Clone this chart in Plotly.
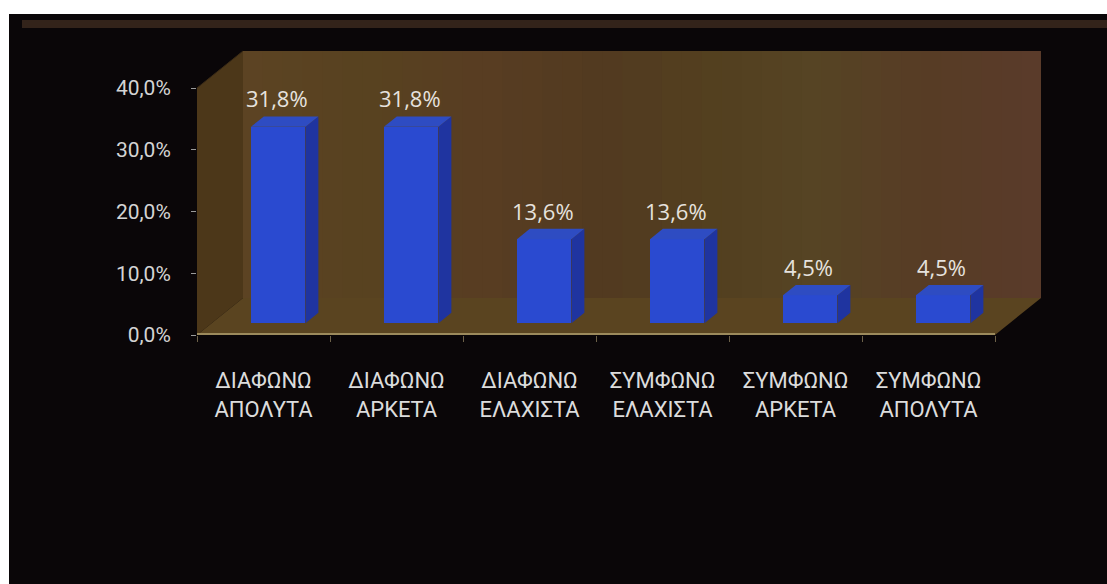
import plotly.graph_objects as go

# ---- data ----
categories = [
    "ΔΙΑΦΩΝΩ<br>ΑΠΟΛΥΤΑ",
    "ΔΙΑΦΩΝΩ<br>ΑΡΚΕΤΑ",
    "ΔΙΑΦΩΝΩ<br>ΕΛΑΧΙΣΤΑ",
    "ΣΥΜΦΩΝΩ<br>ΕΛΑΧΙΣΤΑ",
    "ΣΥΜΦΩΝΩ<br>ΑΡΚΕΤΑ",
    "ΣΥΜΦΩΝΩ<br>ΑΠΟΛΥΤΑ",
]
values = [31.8, 31.8, 13.6, 13.6, 4.5, 4.5]
value_labels = ["31,8%", "31,8%", "13,6%", "13,6%", "4,5%", "4,5%"]
y_ticks = [0, 10, 20, 30, 40]
y_tick_labels = ["0,0%", "10,0%", "20,0%", "30,0%", "40,0%"]

# ---- pseudo-3D geometry (in axis units) ----
W, H = 1107, 584
PL, PR, PT, PB = 197, 1043, 50, 335          # plot area in pixels
N = len(categories)
X_MIN = -0.5
X_MAX = X_MIN + (PR - PL) / ((995 - PL) / N)  # floor front edge spans the categories
Y_MAX_FRONT = 40
Y_MAX = Y_MAX_FRONT * (PB - PT) / (PB - 88)
DEPTH_X = 46 / ((995 - PL) / N)               # wall depth, horizontal part
DEPTH_Y = 37 / ((PB - 88) / Y_MAX_FRONT)      # wall depth, vertical part
Z0, Z1 = 0.32, 0.60                           # bar front / back depth fraction
BAR_W = 0.41

BG = "#0a0608"
FRONT = "#2a4ad0"
SIDE = "#1f34a0"
TOP = "#2e4cc2"
TEXT_FONT = "Open Sans, Noto Sans, sans-serif"
AXIS_FONT = "Liberation Sans Narrow, Roboto, sans-serif"


def px_to_paper_x(px):
    return (px - PL) / (PR - PL)


def px_to_paper_y(py):
    return (PB - py) / (PB - PT)


def lerp_hex(stops, t):
    for (t0, c0), (t1, c1) in zip(stops, stops[1:]):
        if t0 <= t <= t1:
            f = 0 if t1 == t0 else (t - t0) / (t1 - t0)
            a = [int(c0[i:i + 2], 16) for i in (1, 3, 5)]
            b = [int(c1[i:i + 2], 16) for i in (1, 3, 5)]
            return "rgb({},{},{})".format(*[round(a[k] + (b[k] - a[k]) * f) for k in range(3)])
    return stops[-1][1]


shapes = []
# framed black panel on white page
shapes.append(dict(type="rect", xref="paper", yref="paper", layer="below",
                   x0=px_to_paper_x(9), x1=px_to_paper_x(W + 2),
                   y0=px_to_paper_y(H + 2), y1=px_to_paper_y(14),
                   fillcolor=BG, line=dict(width=0)))
shapes.append(dict(type="rect", xref="paper", yref="paper", layer="below",
                   x0=px_to_paper_x(22), x1=px_to_paper_x(W + 2),
                   y0=px_to_paper_y(28), y1=px_to_paper_y(20),
                   fillcolor="#33231a", line=dict(width=0)))

# back wall with horizontal colour drift
wall_stops = [(0.0, "#5c4323"), (0.15, "#584220"), (0.3, "#583d22"), (0.45, "#523a20"),
              (0.6, "#53401f"), (0.72, "#564424"), (0.85, "#573c25"), (1.0, "#5a3b2a")]
bx0, bx1 = X_MIN + DEPTH_X, X_MIN + N + DEPTH_X
bands = 40
step = (bx1 - bx0) / bands
for k in range(bands):
    t = (k + 0.5) / bands
    shapes.append(dict(type="rect", xref="x", yref="y", layer="below",
                       x0=bx0 + step * k,
                       x1=min(bx1, bx0 + step * (k + 1.8)),
                       y0=DEPTH_Y, y1=Y_MAX_FRONT + DEPTH_Y,
                       fillcolor=lerp_hex(wall_stops, t), line=dict(width=0)))

# side wall
shapes.append(dict(type="path", xref="x", yref="y", layer="below",
                   path=f"M {X_MIN},0 L {X_MIN},{Y_MAX_FRONT} L {X_MIN + DEPTH_X},{Y_MAX_FRONT + DEPTH_Y} "
                        f"L {X_MIN + DEPTH_X},{DEPTH_Y} Z",
                   fillcolor="#4c3719", line=dict(width=0)))
# floor
shapes.append(dict(type="path", xref="x", yref="y", layer="below",
                   path=f"M {X_MIN},0 L {X_MIN + N},0 L {X_MIN + N + DEPTH_X},{DEPTH_Y} "
                        f"L {X_MIN + DEPTH_X},{DEPTH_Y} Z",
                   fillcolor="#5a4420", line=dict(width=0)))
# floor front edge
shapes.append(dict(type="line", xref="x", yref="y", layer="below",
                   x0=X_MIN, x1=X_MIN + N, y0=0.15, y1=0.15,
                   line=dict(color="#9c8a5c", width=2)))
# top edge of the side wall
shapes.append(dict(type="line", xref="x", yref="y", layer="below",
                   x0=X_MIN, x1=X_MIN + DEPTH_X, y0=Y_MAX_FRONT, y1=Y_MAX_FRONT + DEPTH_Y,
                   line=dict(color="#3a2a16", width=1)))

fig = go.Figure()

idx = list(range(N))
bar_x = [i + Z0 * DEPTH_X for i in idx]
base = Z0 * DEPTH_Y

# bar front faces
fig.add_trace(go.Bar(x=bar_x, y=values, base=[base] * N, width=BAR_W,
                     marker=dict(color=FRONT, line=dict(width=0)),
                     hoverinfo="skip", showlegend=False))

# bar side and top faces derived from the same values
dzx, dzy = (Z1 - Z0) * DEPTH_X, (Z1 - Z0) * DEPTH_Y
for xc, v in zip(bar_x, values):
    xl, xr = xc - BAR_W / 2, xc + BAR_W / 2
    top = base + v
    fig.add_trace(go.Scatter(
        x=[xr, xr + dzx, xr + dzx, xr, xr],
        y=[base, base + dzy, top + dzy, top, base],
        fill="toself", fillcolor=SIDE, mode="lines", line=dict(width=0),
        hoverinfo="skip", showlegend=False))
    fig.add_trace(go.Scatter(
        x=[xl, xr, xr + dzx, xl + dzx, xl],
        y=[top, top, top + dzy, top + dzy, top],
        fill="toself", fillcolor=TOP, mode="lines", line=dict(width=0),
        hoverinfo="skip", showlegend=False))

# value labels
annotations = []
for xc, v, lab in zip(bar_x, values, value_labels):
    annotations.append(dict(x=xc - 0.01, y=base + v + dzy, xref="x", yref="y",
                            text=lab, showarrow=False, yanchor="bottom", yshift=1,
                            font=dict(family=TEXT_FONT, size=22, color="#e6e2de")))

fig.update_layout(
    width=W, height=H,
    margin=dict(l=PL, r=W - PR, t=PT, b=H - PB, pad=0),
    paper_bgcolor="white",
    plot_bgcolor="rgba(0,0,0,0)",
    shapes=shapes,
    annotations=annotations,
    bargap=0,
    showlegend=False,
    xaxis=dict(range=[X_MIN, X_MAX], tickvals=idx, ticktext=categories,
               showgrid=False, zeroline=False, showline=False, ticks="",
               ticklabelstandoff=30,
               tickfont=dict(family=AXIS_FONT, size=22, color="#dcdcdc"),
               minor=dict(tickvals=[X_MIN + k for k in range(N + 1)], ticks="outside",
                          ticklen=6, tickcolor="#6c6048", tickwidth=1),
               fixedrange=True),
    yaxis=dict(range=[0, Y_MAX], tickvals=y_ticks, ticktext=y_tick_labels,
               showgrid=False, zeroline=False, showline=False,
               ticks="outside", ticklen=5, tickcolor="#9a9a9a",
               ticklabelstandoff=16,
               tickfont=dict(family=AXIS_FONT, size=21, color="#d4d4d4"),
               fixedrange=True),
)

fig.write_html("out.html")
